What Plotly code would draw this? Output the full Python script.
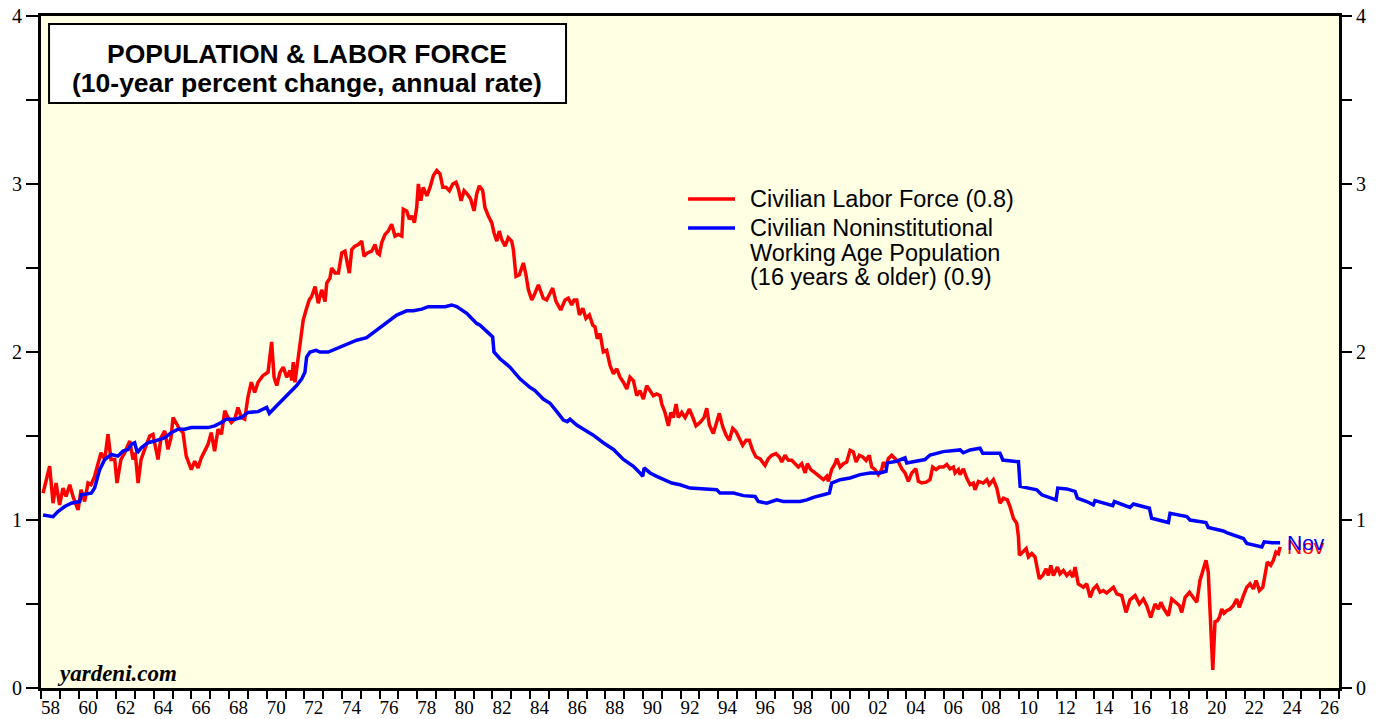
import plotly.graph_objects as go

# ---------------- data (decimal year, 10-yr % change annual rate) ----------------
red_years = [
    1958.11, 1958.46, 1958.64, 1958.80, 1958.99, 1959.17, 1959.33, 1959.53, 1959.70, 1959.97,
    1960.13, 1960.32, 1960.50, 1960.66, 1960.85, 1961.03, 1961.19, 1961.39, 1961.56, 1961.72,
    1961.92, 1962.04, 1962.25, 1962.45, 1962.63, 1962.72, 1962.89, 1963.01, 1963.16, 1963.32,
    1963.51, 1963.78, 1963.95, 1964.22, 1964.38, 1964.58, 1964.75, 1964.91, 1965.02, 1965.19,
    1965.37, 1965.55, 1965.72, 1965.99, 1966.17, 1966.35, 1966.52, 1966.70, 1966.88, 1967.05,
    1967.23, 1967.41, 1967.59, 1967.77, 1967.94, 1968.12, 1968.30, 1968.47, 1968.65, 1968.83,
    1969.00, 1969.18, 1969.36, 1969.54, 1969.80, 1970.07, 1970.26, 1970.39, 1970.53, 1970.71,
    1970.88, 1971.06, 1971.24, 1971.33, 1971.41, 1971.50, 1971.63, 1971.77, 1971.94, 1972.09,
    1972.26, 1972.39, 1972.57, 1972.74, 1972.92, 1973.10, 1973.19, 1973.36, 1973.45, 1973.63,
    1973.81, 1973.99, 1974.16, 1974.28, 1974.39, 1974.52, 1974.69, 1974.87, 1975.05, 1975.17,
    1975.35, 1975.58, 1975.76, 1975.88, 1975.99, 1976.11, 1976.29, 1976.46, 1976.64, 1976.82,
    1976.99, 1977.18, 1977.26, 1977.44, 1977.58, 1977.71, 1977.85, 1977.97, 1978.06, 1978.19,
    1978.32, 1978.51, 1978.68, 1978.86, 1979.04, 1979.21, 1979.36, 1979.53, 1979.71, 1979.89,
    1980.06, 1980.19, 1980.33, 1980.49, 1980.66, 1980.84, 1981.02, 1981.16, 1981.30, 1981.48,
    1981.60, 1981.78, 1981.96, 1982.08, 1982.23, 1982.36, 1982.49, 1982.67, 1982.84, 1983.02,
    1983.11, 1983.25, 1983.43, 1983.64, 1983.78, 1983.91, 1984.09, 1984.26, 1984.44, 1984.70,
    1984.88, 1985.06, 1985.20, 1985.38, 1985.63, 1985.86, 1986.03, 1986.21, 1986.34, 1986.48,
    1986.62, 1986.80, 1986.97, 1987.15, 1987.33, 1987.45, 1987.57, 1987.72, 1987.89, 1988.07,
    1988.25, 1988.43, 1988.61, 1988.78, 1988.96, 1989.14, 1989.31, 1989.49, 1989.67, 1989.84,
    1990.02, 1990.20, 1990.38, 1990.55, 1990.73, 1990.91, 1991.00, 1991.17, 1991.35, 1991.48,
    1991.61, 1991.76, 1991.88, 1992.06, 1992.24, 1992.47, 1992.65, 1992.82, 1993.03, 1993.25,
    1993.39, 1993.53, 1993.74, 1993.89, 1994.06, 1994.24, 1994.42, 1994.59, 1994.77, 1994.95,
    1995.12, 1995.30, 1995.48, 1995.65, 1995.83, 1996.01, 1996.22, 1996.49, 1996.66, 1996.85,
    1997.07, 1997.25, 1997.38, 1997.55, 1997.73, 1997.91, 1998.09, 1998.26, 1998.44, 1998.62,
    1998.74, 1998.92, 1999.15, 1999.38, 1999.59, 1999.77, 1999.86, 2000.03, 2000.21, 2000.30,
    2000.48, 2000.65, 2000.83, 2001.01, 2001.18, 2001.33, 2001.50, 2001.68, 2001.86, 2002.03,
    2002.16, 2002.34, 2002.51, 2002.69, 2002.78, 2002.92, 2003.04, 2003.22, 2003.40, 2003.58,
    2003.76, 2003.93, 2004.11, 2004.29, 2004.51, 2004.64, 2004.82, 2005.05, 2005.26, 2005.40,
    2005.58, 2005.75, 2005.97, 2006.15, 2006.32, 2006.50, 2006.59, 2006.77, 2006.86, 2007.03,
    2007.21, 2007.39, 2007.56, 2007.65, 2007.83, 2008.09, 2008.28, 2008.41, 2008.63, 2008.81,
    2008.98, 2009.16, 2009.37, 2009.51, 2009.69, 2009.87, 2009.96, 2010.01, 2010.19, 2010.37,
    2010.49, 2010.67, 2010.84, 2010.97, 2011.07, 2011.25, 2011.43, 2011.55, 2011.68, 2011.82,
    2012.03, 2012.17, 2012.35, 2012.53, 2012.70, 2012.85, 2012.97, 2013.14, 2013.41, 2013.59,
    2013.77, 2013.94, 2014.12, 2014.30, 2014.47, 2014.65, 2014.83, 2015.01, 2015.19, 2015.45,
    2015.68, 2015.89, 2016.16, 2016.39, 2016.60, 2016.78, 2016.99, 2017.22, 2017.40, 2017.53,
    2017.70, 2017.93, 2018.11, 2018.34, 2018.52, 2018.64, 2018.82, 2019.05, 2019.26, 2019.44,
    2019.61, 2019.79, 2019.93, 2020.05, 2020.29, 2020.41, 2020.53, 2020.64, 2020.77, 2020.89,
    2021.03, 2021.21, 2021.38, 2021.56, 2021.70, 2021.92, 2022.10, 2022.27, 2022.45, 2022.59,
    2022.77, 2022.95, 2023.07, 2023.19, 2023.37, 2023.51, 2023.65, 2023.78, 2023.87,
]
red_values = [
    1.16, 1.32, 1.10, 1.22, 1.09, 1.19, 1.14, 1.21, 1.14, 1.06,
    1.18, 1.11, 1.22, 1.21, 1.26, 1.34, 1.40, 1.36, 1.51, 1.36,
    1.36, 1.22, 1.36, 1.40, 1.44, 1.47, 1.36, 1.40, 1.22, 1.36,
    1.42, 1.50, 1.51, 1.36, 1.49, 1.53, 1.42, 1.49, 1.61, 1.58,
    1.54, 1.52, 1.38, 1.30, 1.35, 1.31, 1.37, 1.41, 1.45, 1.52,
    1.41, 1.54, 1.51, 1.65, 1.61, 1.58, 1.60, 1.67, 1.61, 1.60,
    1.73, 1.82, 1.76, 1.82, 1.86, 1.88, 2.06, 1.85, 1.80, 1.88,
    1.91, 1.85, 1.89, 1.83, 1.94, 1.82, 1.93, 2.06, 2.19, 2.25,
    2.31, 2.33, 2.39, 2.29, 2.37, 2.30, 2.41, 2.44, 2.50, 2.47,
    2.47, 2.59, 2.60, 2.53, 2.47, 2.61, 2.63, 2.64, 2.66, 2.57,
    2.59, 2.60, 2.64, 2.59, 2.58, 2.65, 2.70, 2.72, 2.76, 2.69,
    2.70, 2.69, 2.85, 2.84, 2.79, 2.81, 2.77, 2.86, 3.00, 2.90,
    2.98, 2.93, 2.98, 3.05, 3.08, 3.06, 2.98, 2.98, 2.96, 3.00,
    3.01, 2.97, 2.90, 2.96, 2.94, 2.91, 2.84, 2.94, 2.99, 2.96,
    2.86, 2.81, 2.77, 2.71, 2.66, 2.72, 2.67, 2.63, 2.68, 2.66,
    2.61, 2.45, 2.46, 2.53, 2.46, 2.37, 2.31, 2.35, 2.40, 2.32,
    2.31, 2.35, 2.38, 2.30, 2.25, 2.31, 2.32, 2.28, 2.31, 2.31,
    2.22, 2.26, 2.20, 2.22, 2.16, 2.15, 2.08, 2.11, 2.00, 2.01,
    1.92, 1.87, 1.90, 1.85, 1.82, 1.78, 1.85, 1.83, 1.74, 1.77,
    1.72, 1.80, 1.77, 1.74, 1.75, 1.74, 1.69, 1.64, 1.56, 1.64,
    1.61, 1.69, 1.61, 1.64, 1.61, 1.66, 1.61, 1.56, 1.58, 1.61,
    1.665, 1.565, 1.515, 1.565, 1.635, 1.555, 1.505, 1.475, 1.545, 1.525,
    1.485, 1.445, 1.475, 1.475, 1.415, 1.375, 1.365, 1.325, 1.365, 1.385,
    1.395, 1.375, 1.345, 1.385, 1.355, 1.355, 1.335, 1.315, 1.335, 1.28,
    1.335, 1.30, 1.28, 1.26, 1.24, 1.26, 1.23, 1.30, 1.335, 1.365,
    1.315, 1.335, 1.345, 1.415, 1.405, 1.345, 1.385, 1.375, 1.355, 1.385,
    1.315, 1.30, 1.27, 1.30, 1.345, 1.315, 1.365, 1.385, 1.365, 1.345,
    1.305, 1.28, 1.23, 1.28, 1.305, 1.23, 1.22, 1.225, 1.24, 1.315,
    1.30, 1.315, 1.315, 1.33, 1.305, 1.315, 1.28, 1.30, 1.27, 1.305,
    1.25, 1.21, 1.22, 1.18, 1.23, 1.22, 1.24, 1.21, 1.24, 1.19,
    1.10, 1.13, 1.12, 1.08, 1.01, 0.98, 0.90, 0.79, 0.81, 0.83,
    0.78, 0.80, 0.78, 0.70, 0.65, 0.67, 0.71, 0.67, 0.73, 0.67,
    0.72, 0.68, 0.70, 0.67, 0.69, 0.66, 0.72, 0.62, 0.60, 0.62,
    0.54, 0.59, 0.61, 0.57, 0.58, 0.565, 0.58, 0.60, 0.56, 0.55,
    0.45, 0.525, 0.55, 0.50, 0.53, 0.49, 0.42, 0.50, 0.47, 0.51,
    0.47, 0.43, 0.53, 0.51, 0.49, 0.45, 0.54, 0.57, 0.54, 0.51,
    0.64, 0.71, 0.76, 0.69, 0.107, 0.395, 0.40, 0.42, 0.47, 0.445,
    0.46, 0.47, 0.49, 0.53, 0.48, 0.55, 0.60, 0.62, 0.59, 0.64,
    0.58, 0.60, 0.68, 0.75, 0.73, 0.76, 0.81, 0.80, 0.84,
]

blue_years = [
    1958.11, 1958.64, 1958.90, 1959.26, 1959.61, 1960.06, 1960.14, 1960.67, 1960.85, 1961.12,
    1961.39, 1961.74, 1962.09, 1962.36, 1962.63, 1962.80, 1962.98, 1963.12, 1963.33, 1963.69,
    1964.04, 1964.58, 1964.93, 1965.28, 1965.64, 1965.99, 1966.88, 1967.23, 1967.59, 1967.85,
    1968.30, 1968.65, 1969.00, 1969.54, 1970.00, 1970.14, 1970.53, 1970.88, 1971.24, 1971.59,
    1971.86, 1972.03, 1972.12, 1972.30, 1972.62, 1972.83, 1973.27, 1973.72, 1974.25, 1974.78,
    1975.31, 1975.49, 1975.85, 1976.38, 1976.91, 1977.44, 1977.79, 1978.24, 1978.59, 1979.04,
    1979.48, 1979.83, 1980.10, 1980.63, 1981.16, 1981.34, 1981.69, 1982.01, 1982.08, 1982.40,
    1982.93, 1983.46, 1983.99, 1984.26, 1984.70, 1985.06, 1985.42, 1985.77, 1985.98, 1986.12,
    1986.48, 1987.01, 1987.36, 1987.89, 1988.43, 1988.96, 1989.49, 1989.84, 1989.99, 1990.06,
    1990.38, 1990.73, 1991.08, 1991.53, 1991.97, 1992.50, 1993.92, 1994.10, 1994.81, 1995.34,
    1995.96, 1996.13, 1996.58, 1996.93, 1997.11, 1997.46, 1997.82, 1998.35, 1998.71, 1999.06,
    1999.59, 1999.91, 2000.03, 2000.48, 2001.01, 2001.54, 2002.07, 2002.60, 2002.92, 2002.99,
    2003.49, 2003.93, 2004.02, 2004.55, 2004.99, 2005.26, 2005.97, 2006.86, 2007.03, 2007.39,
    2007.92, 2008.06, 2008.98, 2009.13, 2009.96, 2010.05, 2010.58, 2010.93, 2011.20, 2011.55,
    2011.96, 2012.05, 2012.53, 2012.97, 2013.09, 2013.59, 2013.94, 2014.03, 2014.47, 2014.97,
    2015.06, 2015.45, 2015.89, 2016.07, 2016.92, 2017.04, 2017.93, 2018.02, 2018.91, 2019.08,
    2019.93, 2020.05, 2020.85, 2021.03, 2021.92, 2022.10, 2022.90, 2023.02, 2023.43, 2023.87,
]
blue_values = [
    1.03, 1.02, 1.05, 1.08, 1.10, 1.11, 1.15, 1.16, 1.19, 1.30,
    1.36, 1.39, 1.38, 1.41, 1.42, 1.45, 1.46, 1.40, 1.43, 1.46,
    1.47, 1.49, 1.52, 1.54, 1.54, 1.55, 1.55, 1.56, 1.58, 1.60,
    1.60, 1.61, 1.64, 1.645, 1.67, 1.635, 1.68, 1.72, 1.76, 1.80,
    1.84, 1.88, 1.97, 2.00, 2.01, 2.00, 2.00, 2.02, 2.045, 2.07,
    2.085, 2.10, 2.13, 2.18, 2.22, 2.245, 2.245, 2.255, 2.27, 2.27,
    2.27, 2.28, 2.27, 2.23, 2.17, 2.16, 2.12, 2.09, 2.00, 1.96,
    1.91, 1.84, 1.79, 1.77, 1.72, 1.695, 1.645, 1.595, 1.585, 1.60,
    1.565, 1.53, 1.505, 1.46, 1.42, 1.36, 1.32, 1.28, 1.26, 1.31,
    1.28, 1.26, 1.24, 1.22, 1.21, 1.19, 1.18, 1.16, 1.16, 1.145,
    1.14, 1.11, 1.10, 1.11, 1.12, 1.11, 1.11, 1.11, 1.12, 1.135,
    1.15, 1.16, 1.22, 1.24, 1.25, 1.27, 1.28, 1.28, 1.29, 1.34,
    1.35, 1.37, 1.34, 1.35, 1.36, 1.387, 1.407, 1.417, 1.40, 1.417,
    1.427, 1.397, 1.397, 1.357, 1.347, 1.20, 1.19, 1.18, 1.15, 1.135,
    1.12, 1.19, 1.185, 1.17, 1.13, 1.11, 1.09, 1.115, 1.10, 1.085,
    1.11, 1.095, 1.075, 1.095, 1.07, 1.01, 0.985, 1.04, 1.02, 1.00,
    0.985, 0.955, 0.935, 0.925, 0.89, 0.86, 0.84, 0.87, 0.865, 0.865,
]

red_name = "Civilian Labor Force (0.8)"
blue_name_lines = ["Civilian Noninstitutional", "Working Age Population", "(16 years & older) (0.9)"]
title_lines = ["POPULATION & LABOR FORCE", "(10-year percent change, annual rate)"]
last_label = "Nov"

x_label_years = list(range(1958, 2027, 2))
x_labels = ["58", "60", "62", "64", "66", "68", "70", "72", "74", "76", "78", "80",
            "82", "84", "86", "88", "90", "92", "94", "96", "98", "00", "02", "04",
            "06", "08", "10", "12", "14", "16", "18", "20", "22", "24", "26"]
x_minor_years = list(range(1958, 2028))
y_tick_vals = [0, 1, 2, 3, 4]
y_tick_labels = ["0", "1", "2", "3", "4"]
y_minor_vals = [0.5, 1.5, 2.5, 3.5]

RED = "#FF0000"
BLUE = "#0000FF"
SANS = "Arial, Liberation Sans, sans-serif"
SERIF = "Times New Roman, Liberation Serif, serif"

fig = go.Figure()
fig.add_trace(go.Scatter(x=red_years, y=red_values, mode="lines", name=red_name,
                         line=dict(color=RED, width=3.5), showlegend=False, hoverinfo="skip"))
fig.add_trace(go.Scatter(x=blue_years, y=blue_values, mode="lines", name=" ".join(blue_name_lines),
                         line=dict(color=BLUE, width=3.5), yaxis="y2", showlegend=False,
                         hoverinfo="skip"))

yaxis_common = dict(
    range=[0, 4], tickmode="array", tickvals=y_tick_vals, ticktext=y_tick_labels,
    ticks="outside", ticklen=12, tickwidth=1.5, tickcolor="black",
    showgrid=False, zeroline=False, automargin=False,
    tickfont=dict(family=SERIF, size=20, color="black"),
    minor=dict(tickmode="array", tickvals=y_minor_vals, ticks="outside", ticklen=12,
               tickwidth=1.5, tickcolor="black", showgrid=False),
    fixedrange=True,
)

fig.update_layout(
    width=1384, height=719,
    margin=dict(l=41, r=45, t=16, b=31, pad=0, autoexpand=False),
    paper_bgcolor="white",
    plot_bgcolor="#FFFFE4",
    xaxis=dict(
        range=[1958, 2027], tickmode="array",
        tickvals=[y + 0.5 for y in x_label_years], ticktext=x_labels,
        ticks="outside", ticklen=0, tickcolor="rgba(0,0,0,0)",
        showline=True, linewidth=3, linecolor="black", mirror=True,
        showgrid=False, zeroline=False, automargin=False,
        tickfont=dict(family=SERIF, size=19, color="black"),
        minor=dict(tickmode="array", tickvals=x_minor_years, ticks="outside", ticklen=8,
                   tickwidth=2, tickcolor="black", showgrid=False),
        fixedrange=True,
    ),
    yaxis=dict(showline=True, linewidth=3, linecolor="black", mirror=True, **yaxis_common),
    yaxis2=dict(overlaying="y", side="right", showline=False, **yaxis_common),
    showlegend=False,
)

shapes = []
annotations = []

# Title box
shapes.append(dict(type="rect", xref="paper", yref="paper", x0=0.0062, x1=0.4045,
                   y0=0.8705, y1=0.988, fillcolor="white", line=dict(color="black", width=2),
                   layer="above"))
annotations.append(dict(xref="paper", yref="paper", x=0.2053, y=0.9435, text="<b>%s</b>" % title_lines[0],
                        showarrow=False, xanchor="center", yanchor="middle",
                        font=dict(family=SANS, size=26.5, color="black")))
annotations.append(dict(xref="paper", yref="paper", x=0.2053, y=0.9010, text="<b>%s</b>" % title_lines[1],
                        showarrow=False, xanchor="center", yanchor="middle",
                        font=dict(family=SANS, size=26.5, color="black")))

# Legend (drawn manually to match placement)
leg_x0, leg_x1, leg_tx = 0.4985, 0.5347, 0.5447
red_leg_y = 0.7277
blue_leg_ys = [0.6845, 0.6473, 0.6116]
shapes.append(dict(type="line", xref="paper", yref="paper", x0=leg_x0, x1=leg_x1,
                   y0=red_leg_y, y1=red_leg_y, line=dict(color=RED, width=3.5)))
shapes.append(dict(type="line", xref="paper", yref="paper", x0=leg_x0, x1=leg_x1,
                   y0=blue_leg_ys[0], y1=blue_leg_ys[0], line=dict(color=BLUE, width=3.5)))
annotations.append(dict(xref="paper", yref="paper", x=leg_tx, y=red_leg_y, text=red_name,
                        showarrow=False, xanchor="left", yanchor="middle",
                        font=dict(family=SANS, size=23.5, color="black")))
for txt, yy in zip(blue_name_lines, blue_leg_ys):
    annotations.append(dict(xref="paper", yref="paper", x=leg_tx, y=yy, text=txt,
                            showarrow=False, xanchor="left", yanchor="middle",
                            font=dict(family=SANS, size=23.5, color="black")))

# End-of-series labels (overlapping, as in the original)
annotations.append(dict(x=red_years[-1], y=red_values[-1], xref="x", yref="y", text=last_label,
                        showarrow=False, xanchor="left", yanchor="middle", xshift=5,
                        font=dict(family=SANS, size=21, color=RED)))
annotations.append(dict(x=blue_years[-1], y=blue_values[-1], xref="x", yref="y", text=last_label,
                        showarrow=False, xanchor="left", yanchor="middle", xshift=5,
                        font=dict(family=SANS, size=21, color=BLUE)))

# Source
annotations.append(dict(xref="paper", yref="paper", x=0.0108, y=0.0223, text="<b><i>yardeni.com</i></b>",
                        showarrow=False, xanchor="left", yanchor="middle",
                        font=dict(family=SERIF, size=23, color="black")))

fig.update_layout(shapes=shapes, annotations=annotations)

fig.write_html("out.html", config={"displayModeBar": False},
               post_script="document.body.style.margin='0px';document.body.style.overflow='hidden';")
